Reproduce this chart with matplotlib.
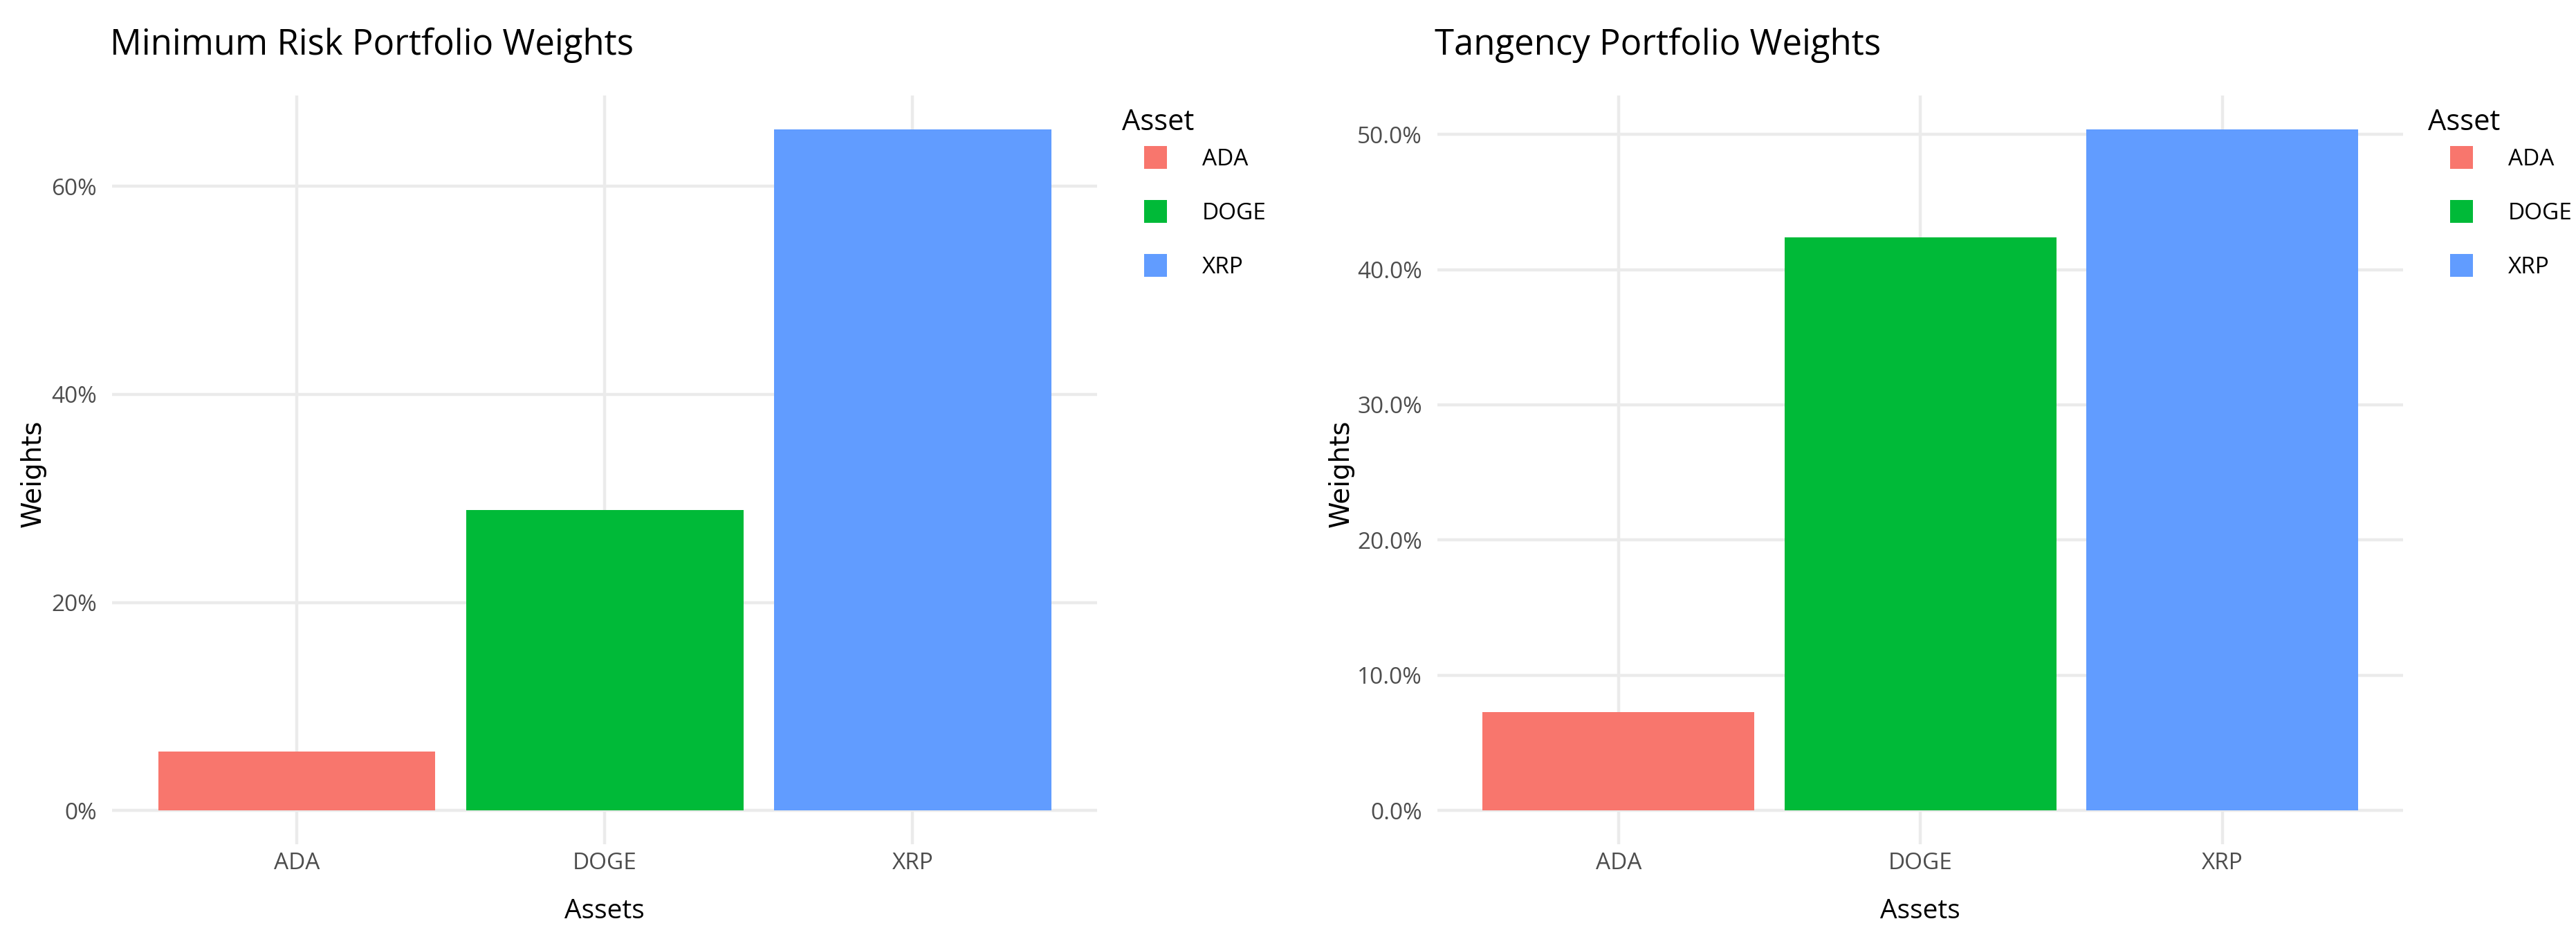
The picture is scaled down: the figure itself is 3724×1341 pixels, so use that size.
import matplotlib
matplotlib.use("Agg")
import matplotlib.pyplot as plt
from matplotlib.patches import Patch, Rectangle
from matplotlib.legend_handler import HandlerPatch
from matplotlib.ticker import FuncFormatter

assets = ["ADA", "DOGE", "XRP"]
colors = ["#F8766D", "#00BA38", "#619CFF"]
min_risk_weights = [0.0568, 0.2886, 0.6546]
tangency_weights = [0.0725, 0.4240, 0.5035]

plt.rcParams["font.family"] = ["Open Sans", "DejaVu Sans"]

fig = plt.figure(figsize=(18.62, 6.705), dpi=200)


# legend key drawn as a square pushed to the right, like ggplot's indented keys
def square_key(legend, orig_handle, xdescent, ydescent, width, height, fontsize):
    sq = 11.9
    return Rectangle((-xdescent + width - sq, -ydescent + (height - sq) / 2), sq, sq)


def draw_panel(rect, weights, title, yticks, fmt, title_x, ylab_x, leg_x):
    ax = fig.add_axes(rect)
    x = list(range(1, len(assets) + 1))
    ax.bar(x, weights, width=0.9, color=colors, zorder=2)
    top = max(weights)
    ax.set_xlim(0.4, 3.6)
    ax.set_ylim(-0.05 * top, 1.05 * top)
    ax.set_xticks(x)
    ax.set_xticklabels(assets)
    ax.set_yticks(yticks)
    ax.yaxis.set_major_formatter(FuncFormatter(fmt))
    ax.grid(True, color="#EBEBEB", linewidth=1.6, zorder=0)
    ax.set_axisbelow(True)
    for s in ax.spines.values():
        s.set_visible(False)
    ax.tick_params(length=0, labelsize=12, labelcolor="#4D4D4D")
    ax.tick_params(axis="y", pad=8)
    ax.tick_params(axis="x", pad=4)
    ax.set_xlabel("Assets", fontsize=14, labelpad=12)
    fig.text(ylab_x, 0.49, "Weights", rotation=90, ha="center", va="center",
             fontsize=14, family="DejaVu Sans")
    fig.text(title_x, 0.951, title, fontsize=18.3, ha="left", va="center")
    handles = [Patch(facecolor=c, label=a) for a, c in zip(assets, colors)]
    leg = fig.legend(handles=handles, title="Asset", loc="upper left",
                     bbox_to_anchor=(leg_x, 0.884), frameon=False,
                     fontsize=12, title_fontsize=15, handlelength=1.95,
                     handleheight=1.0, labelspacing=1.31, handletextpad=1.53,
                     alignment="left", borderaxespad=0, borderpad=0,
                     handler_map={Patch: HandlerPatch(patch_func=square_key)})
    # tighter gap between the legend title and the first key
    leg._legend_box.sep = 5.5
    return ax


draw_panel([0.0435, 0.09, 0.3825, 0.807], min_risk_weights,
           "Minimum Risk Portfolio Weights", [0, 0.2, 0.4, 0.6],
           lambda v, p: f"{v * 100:.0f}%", 0.0427, 0.0127, 0.4356)
draw_panel([0.558, 0.09, 0.375, 0.807], tangency_weights,
           "Tangency Portfolio Weights", [0, 0.1, 0.2, 0.3, 0.4, 0.5],
           lambda v, p: f"{v * 100:.1f}%", 0.5568, 0.5205, 0.9425)

fig.savefig("out.png", dpi=200, facecolor="white")
